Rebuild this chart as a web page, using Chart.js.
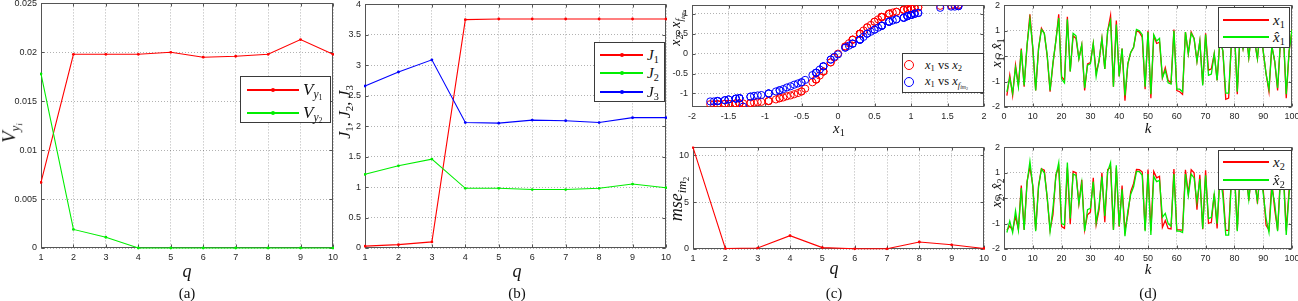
<!DOCTYPE html>
<html>
<head>
<meta charset="utf-8">
<script src="https://cdn.jsdelivr.net/npm/chart.js@4.4.1/dist/chart.umd.min.js"></script>
<style>
  html, body { margin: 0; padding: 0; background: #fff; }
  #fig { position: relative; width: 1298px; height: 301px; overflow: hidden; font-family: "Liberation Serif", "DejaVu Serif", serif; }
  #fig canvas { position: absolute; }
  .t { position: absolute; white-space: nowrap; line-height: 1; color: #111; }
  .t sub, .lg sub { font-size: 68%; vertical-align: -0.3em; line-height: 0; }
  .lg { position: absolute; background: #fff; border: 1px solid #3a3a3a; box-sizing: border-box; }
  .lg div { position: absolute; }
</style>
</head>
<body>
<div id="fig"></div>
<script>
// ---- data ----
const q = [1, 2, 3, 4, 5, 6, 7, 8, 9, 10];

// (a)
const vY1 = [0.0067, 0.0198, 0.0198, 0.0198, 0.0200, 0.0195, 0.0196, 0.0198, 0.0213, 0.0198];
const vY2 = [0.0178, 0.0019, 0.0011, 0, 0, 0, 0, 0, 0, 0];

// (b)
const j1 = [0.03, 0.055, 0.10, 3.75, 3.76, 3.76, 3.76, 3.76, 3.76, 3.76];
const j2 = [1.21, 1.35, 1.46, 0.98, 0.98, 0.96, 0.96, 0.98, 1.05, 0.99];
const j3 = [2.66, 2.89, 3.09, 2.06, 2.05, 2.10, 2.09, 2.06, 2.14, 2.14];

// (c) bottom
const mseIm2 = [10.85, 0.05, 0.1, 1.42, 0.15, 0.02, 0.02, 0.75, 0.45, 0.06];

// (d) samples k = 1..100
const k = Array.from({ length: 100 }, (_, i) => i + 1);

const x1 = [-1.55, -0.75, -1.55, -0.35, -1.15, 0.3, -1.2, 0.4, 1.65, 0.3,
  -1.35, 0.3, 1.1, 0.9, 0.0, -1.4, -0.3, 0.6, 1.65, -0.8,
  -0.95, 1.55, -0.6, 0.8, 0.7, -0.1, 0.45, -1.35, -0.3, -0.25,
  0.5, -0.65, -0.2, 0.7, -0.5, 1.0, 1.6, -1.2, 1.4, -0.8,
  0.3, -1.75, -0.3, 0.15, 0.35, 1.0, 0.95, 0.75, -1.3, 1.0,
  -1.65, 0.8, 0.5, 0.55, -0.85, -0.45, -0.95, -1.05, 1.05, -1.35,
  -1.4, -1.5, 0.95, 0.1, 0.95, 0.7, -0.2, 0.6, -1.1, 0.9,
  -0.55, -0.5, 0.1, -0.95, 0.7, 0.2, -1.7, -1.65, 0.6, 1.05,
  -1.5, 1.0, 0.3, 1.0, -0.05, 1.0, 0.6, -0.1, 1.1, 0.2,
  -0.7, -1.4, 0.4, -0.2, -1.35, 0.6, 0.9, -1.65, 0.2, 1.05];

const x1Hat = [-1.4, -0.85, -1.45, -0.45, -1.2, 0.25, -1.15, 0.45, 1.45, 0.35,
  -1.35, 0.3, 1.05, 0.9, 0.05, -1.35, -0.25, 0.6, 1.5, -0.9,
  -1.05, 1.45, -0.6, 0.9, 0.8, -0.1, 0.45, -1.25, -0.35, -0.3,
  0.5, -0.8, -0.15, 0.7, -0.5, 1.0, 1.4, -1.2, 1.25, -0.8,
  0.3, -1.55, -0.3, 0.15, 0.35, 1.05, 1.0, 0.85, -1.2, 0.95,
  -1.5, 0.85, 0.6, 0.7, -0.85, -0.55, -1.05, -1.1, 1.0, -1.3,
  -1.3, -1.4, 0.95, 0.1, 0.9, 0.7, -0.2, 0.6, -1.15, 0.85,
  -0.75, -0.7, 0.1, -0.95, 0.7, 0.2, -1.45, -1.45, 0.6, 1.05,
  -1.4, 1.0, 0.3, 1.0, -0.05, 1.0, 0.6, -0.1, 1.1, 0.2,
  -0.7, -1.3, 0.4, -0.2, -1.25, 0.6, 0.9, -1.5, 0.2, 1.05];

const x2 = [-1.26, -1.1, -1.26, -0.72, -1.23, 0.5, -1.24, 0.66, 1.22, 0.5,
  -1.25, 0.5, 1.16, 1.1, 0.0, -1.25, -0.65, 0.92, 1.22, -1.12,
  -1.19, 1.21, -1.02, 1.05, 1.0, -0.22, 0.72, -1.25, -0.65, -0.55,
  0.8, -1.05, -0.45, 1.0, -0.95, 1.13, 1.22, -1.24, 1.2, -1.12,
  0.5, -1.27, -0.65, 0.26, 0.58, 1.13, 1.12, 1.03, -1.25, 1.13,
  -1.27, 1.05, 0.8, 0.86, -1.15, -0.88, -1.19, -1.21, 1.15, -1.25,
  -1.25, -1.26, 1.12, 0.18, 1.12, 1.0, -0.45, 0.92, -1.22, 1.1,
  -0.99, -0.95, 0.18, -1.19, 1.0, 0.35, -1.27, -1.27, 0.92, 1.15,
  -1.26, 1.13, 0.5, 1.13, -0.1, 1.13, 0.92, -0.22, 1.16, 0.35,
  -1.07, -1.25, 0.66, -0.45, -1.25, 0.92, 1.1, -1.27, 0.35, 1.15];

const x2Hat = [-1.35, -0.9, -1.35, -0.5, -1.25, 0.4, -1.25, 0.6, 1.45, 0.45,
  -1.3, 0.45, 1.15, 1.0, 0.05, -1.3, -0.4, 0.85, 1.4, -1.0,
  -1.05, 1.4, -0.8, 0.95, 0.9, -0.2, 0.6, -1.3, -0.45, -0.4,
  0.65, -0.95, -0.3, 0.85, -0.7, 1.05, 1.4, -1.25, 1.3, -1.1,
  0.35, -1.5, -0.5, 0.15, 0.45, 1.05, 1.05, 0.9, -1.3, 0.95,
  -1.45, 0.85, 0.65, 0.7, -0.75, -0.6, -1.0, -1.1, 0.95, -1.3,
  -1.3, -1.35, 0.95, 0.1, 0.95, 0.8, -0.15, 0.75, -1.2, 0.9,
  -0.8, -0.75, 0.15, -1.0, 0.9, 0.1, -1.45, -1.45, 0.75, 1.05,
  -1.3, 1.0, 0.4, 1.0, -0.05, 1.0, 0.6, -0.1, 1.0, 0.2,
  -0.8, -1.35, 0.4, -0.2, -1.3, 0.7, 0.9, -1.45, 0.2, 1.15];

const xFim2 = [-1.17, -0.89, -1.17, -0.54, -1.06, 0.35, -1.08, 0.5, 1.19, 0.35,
  -1.12, 0.35, 1.02, 0.9, -0.02, -1.13, -0.48, 0.7, 1.19, -0.92,
  -1.0, 1.18, -0.78, 0.86, 0.8, -0.15, 0.55, -1.12, -0.48, -0.4,
  0.6, -0.82, -0.32, 0.8, -0.72, 0.97, 1.18, -1.08, 1.15, -0.92,
  0.35, -1.2, -0.48, 0.2, 0.42, 0.97, 0.94, 0.83, -1.33, 0.97,
  -1.19, 0.86, 0.6, 0.65, -0.95, -0.66, -1.0, -1.04, 1.0, -1.12,
  -1.13, -1.15, 0.94, 0.15, 0.94, 0.8, -0.32, 0.7, -1.05, 0.9,
  -0.75, -0.72, 0.15, -1.0, 0.8, 0.25, -1.2, -1.19, 0.7, 1.0,
  -1.15, 0.97, 0.35, 0.97, -0.08, 0.97, 0.7, -0.15, 1.02, 0.25,
  -0.85, -1.13, 0.5, -0.32, -1.12, 0.7, 0.9, -1.19, 0.25, 1.0];

// ---- styling ----
const RED = '#ff0000', GREEN = '#00ee00', BLUE = '#0000ff';
const fig = document.getElementById('fig');
const pts = (xs, ys) => xs.map((x, i) => ({ x, y: ys[i] }));
const fmt = v => String(Math.round(v * 10000) / 10000);

// axes box + inward ticks, matlab style (drawn under the data)
const boxPlugin = {
  id: 'axbox',
  beforeDatasetsDraw(chart) {
    const { ctx, chartArea: a, scales } = chart;
    const L = Math.round(a.left) + 0.5, R = Math.round(a.right) - 0.5;
    const T = Math.round(a.top) + 0.5, B = Math.round(a.bottom) - 0.5;
    ctx.save();
    ctx.strokeStyle = '#555';
    ctx.lineWidth = 1;
    ctx.strokeRect(L, T, R - L, B - T);
    ctx.beginPath();
    scales.x.ticks.forEach(t => {
      const x = Math.round(scales.x.getPixelForValue(t.value)) + 0.5;
      ctx.moveTo(x, B); ctx.lineTo(x, B - 3);
      ctx.moveTo(x, T); ctx.lineTo(x, T + 3);
    });
    scales.y.ticks.forEach(t => {
      const y = Math.round(scales.y.getPixelForValue(t.value)) + 0.5;
      ctx.moveTo(L, y); ctx.lineTo(L + 3, y);
      ctx.moveTo(R, y); ctx.lineTo(R - 3, y);
    });
    ctx.stroke();
    ctx.restore();
  }
};

function axis(min, max, step) {
  return {
    type: 'linear', min, max,
    ticks: {
      stepSize: step, includeBounds: false, autoSkip: false, maxRotation: 0,
      padding: 4, color: '#262626', callback: fmt,
      font: { family: 'Liberation Sans, Arial, sans-serif', size: 9 }
    },
    grid: { color: 'rgba(0,0,0,0.3)', lineWidth: 1, drawTicks: false },
    border: { display: false, dash: [1, 2] }
  };
}

// box = plot area [left, top, right, bottom] in page px
function panel(box, yw, xs, ys, datasets) {
  const padT = 9, padR = 12, xh = 18;
  const L = box[0] - yw, T = box[1] - padT;
  const W = box[2] - L + padR, H = box[3] - T + xh;
  const cv = document.createElement('canvas');
  cv.width = W; cv.height = H;
  Object.assign(cv.style, { left: L + 'px', top: T + 'px', width: W + 'px', height: H + 'px' });
  fig.appendChild(cv);
  xs.afterFit = s => { s.height = xh; };
  ys.afterFit = s => { s.width = yw; };
  return new Chart(cv, {
    type: 'line',
    data: { datasets },
    options: {
      responsive: false, animation: false,
      layout: { padding: { top: padT, right: padR, left: 0, bottom: 0 } },
      plugins: { legend: { display: false }, tooltip: { enabled: false } },
      scales: { x: xs, y: ys }
    },
    plugins: [boxPlugin]
  });
}

const qLine = (vals, color, order) => ({
  data: pts(q, vals), borderColor: color, backgroundColor: color,
  borderWidth: 1.1, pointRadius: 1.4, pointBorderWidth: 0, tension: 0, order,
  clip: { left: 1, right: 1, top: 1, bottom: 2 }
});
const kLine = (vals, color, order) => ({
  data: pts(k, vals), borderColor: color, borderWidth: 1.3,
  pointRadius: 0, tension: 0, order
});
const ring = (ys, color, order) => ({
  type: 'scatter', data: pts(x1, ys), showLine: false,
  borderColor: color, backgroundColor: 'rgba(0,0,0,0)',
  pointRadius: 3.6, borderWidth: 1, order
});

// (a)
panel([41, 3, 333, 248], 41, axis(1, 10, 1), axis(0, 0.025, 0.005),
  [qLine(vY1, RED, 2), qLine(vY2, GREEN, 1)]);
// (b)
panel([365, 4, 666, 248], 40, axis(1, 10, 1), axis(0, 4, 0.5),
  [qLine(j1, RED, 3), qLine(j2, GREEN, 2), qLine(j3, BLUE, 1)]);
// (c) top scatter
panel([692, 5, 984, 107], 40, axis(-2, 2, 0.5), axis(-1.34, 1.21, 0.5),
  [ring(x2, RED, 2), ring(xFim2, BLUE, 1)]);
// (c) bottom
panel([693, 147, 984, 249], 40, axis(1, 10, 1), axis(0, 10.85, 5),
  [qLine(mseIm2, RED, 1)]);
// (d) top / bottom
panel([1004, 5, 1292, 107], 30, axis(0, 100, 10), axis(-2, 2, 1),
  [kLine(x1, RED, 2), kLine(x1Hat, GREEN, 1)]);
panel([1004, 147, 1292, 249], 30, axis(0, 100, 10), axis(-2, 2, 1),
  [kLine(x2, RED, 2), kLine(x2Hat, GREEN, 1)]);

// ---- text ----
function label(html, cx, cy, size, rot) {
  const d = document.createElement('div');
  d.className = 't';
  d.innerHTML = html;
  d.style.left = cx + 'px';
  d.style.top = cy + 'px';
  d.style.fontSize = size + 'px';
  d.style.transform = 'translate(-50%,-50%)' + (rot ? ' rotate(' + rot + 'deg)' : '');
  fig.appendChild(d);
}
const I = s => '<i>' + s + '</i>';
const xh1 = '<i>x&#770;</i>';

label(I('V') + '<sub>' + I('y') + '<sub>' + I('i') + '</sub></sub>', 9, 133, 19, -90);
label(I('q'), 187, 271, 18);
label('(a)', 187, 293, 15);

label(I('J') + '<sub>1</sub>, ' + I('J') + '<sub>2</sub>, ' + I('J') + '<sub>3</sub>', 345, 112, 16, -90);
label(I('q'), 517, 271, 18);
label('(b)', 517, 293, 15);

label(I('x') + '<sub>2</sub>, ' + I('x') + '<sub>' + I('f') + '<sub>' + I('im') + '<sub>2</sub></sub></sub>', 677, 28, 14, -90);
label(I('x') + '<sub>1</sub>', 839, 128, 15);
label(I('mse') + '<sub>' + I('im') + '<sub>2</sub></sub>', 677, 199, 18, -90);
label(I('q'), 834, 268, 18);
label('(c)', 834, 293, 15);

label(I('x') + '<sub>1</sub>, ' + xh1 + '<sub>1</sub>', 997, 53, 14, -90);
label(I('k'), 1148, 128, 15);
label(I('x') + '<sub>2</sub>, ' + xh1 + '<sub>2</sub>', 997, 193, 14, -90);
label(I('k'), 1148, 269, 15);
label('(d)', 1148, 293, 15);

// ---- legends ----
function legend(box, rows, sx0, sx1, tx, size, kind) {
  const d = document.createElement('div');
  d.className = 'lg';
  Object.assign(d.style, {
    left: box[0] + 'px', top: box[1] + 'px',
    width: (box[2] - box[0]) + 'px', height: (box[3] - box[1]) + 'px'
  });
  rows.forEach(r => {
    const y = r.y - box[1];
    if (kind === 'ring') {
      const c = document.createElement('div');
      Object.assign(c.style, {
        left: (sx0 - box[0] - 5) + 'px', top: (y - 5) + 'px', width: '8px', height: '8px',
        border: '1.2px solid ' + r.color, borderRadius: '50%'
      });
      d.appendChild(c);
    } else {
      const l = document.createElement('div');
      Object.assign(l.style, {
        left: (sx0 - box[0]) + 'px', top: (y - 1) + 'px', width: (sx1 - sx0) + 'px',
        height: '2px', background: r.color
      });
      d.appendChild(l);
      if (kind === 'dot') {
        const p = document.createElement('div');
        Object.assign(p.style, {
          left: ((sx0 + sx1) / 2 - box[0] - 2) + 'px', top: (y - 2) + 'px',
          width: '4px', height: '4px', background: r.color, borderRadius: '50%'
        });
        d.appendChild(p);
      }
    }
    const t = document.createElement('div');
    t.className = 't';
    t.innerHTML = r.html;
    Object.assign(t.style, {
      left: (tx - box[0]) + 'px', top: y + 'px', fontSize: size + 'px',
      transform: 'translateY(-50%)'
    });
    d.appendChild(t);
  });
  fig.appendChild(d);
}

legend([240, 76, 331, 123], [
  { y: 89, color: RED, html: I('V') + '<sub>' + I('y') + '<sub>1</sub></sub>' },
  { y: 112, color: GREEN, html: I('V') + '<sub>' + I('y') + '<sub>2</sub></sub>' }
], 246, 298, 302, 17, 'dot');

legend([594, 42, 665, 102], [
  { y: 54, color: RED, html: I('J') + '<sub>1</sub>' },
  { y: 72, color: GREEN, html: I('J') + '<sub>2</sub>' },
  { y: 91, color: BLUE, html: I('J') + '<sub>3</sub>' }
], 599, 642, 646, 15, 'dot');

legend([902, 53, 984, 93], [
  { y: 64, color: RED, html: I('x') + '<sub>1</sub> vs ' + I('x') + '<sub>2</sub>' },
  { y: 81, color: BLUE, html: I('x') + '<sub>1</sub> vs ' + I('x') + '<sub>' + I('f') + '<sub>' + I('im') + '<sub>2</sub></sub></sub>' }
], 908, 0, 924, 12.5, 'ring');

legend([1218, 7, 1290, 48], [
  { y: 19, color: RED, html: I('x') + '<sub>1</sub>' },
  { y: 36, color: GREEN, html: xh1 + '<sub>1</sub>' }
], 1222, 1268, 1272, 15, 'line');

legend([1218, 150, 1292, 190], [
  { y: 161, color: RED, html: I('x') + '<sub>2</sub>' },
  { y: 179, color: GREEN, html: xh1 + '<sub>2</sub>' }
], 1222, 1268, 1272, 15, 'line');
</script>
</body>
</html>
